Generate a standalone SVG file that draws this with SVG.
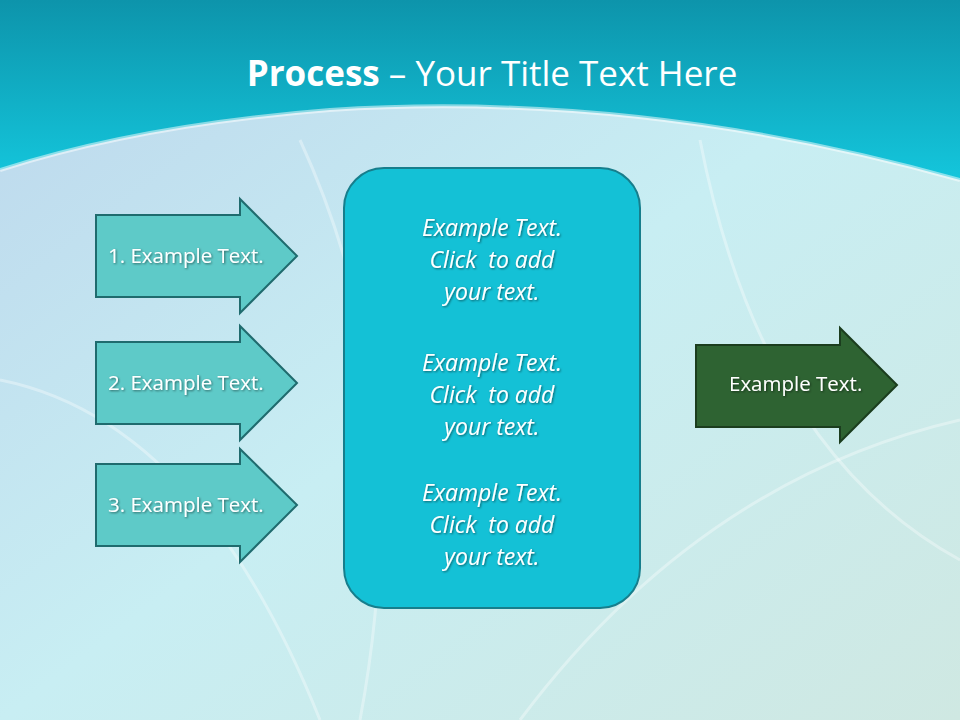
<svg xmlns="http://www.w3.org/2000/svg" width="960" height="720" viewBox="0 0 960 720">
<defs>
<linearGradient id="bg" x1="0" y1="0" x2="1" y2="1">
<stop offset="0" stop-color="#bcd6ec"/><stop offset="0.5" stop-color="#c8eef3"/><stop offset="1" stop-color="#cfe8e2"/>
</linearGradient>
<linearGradient id="top" x1="0" y1="0" x2="0" y2="1">
<stop offset="0" stop-color="#0d94ab"/><stop offset="1" stop-color="#14c6dc"/>
</linearGradient>
<filter id="sh"><feDropShadow dx="1" dy="1" stdDeviation="1" flood-opacity="0.5"/></filter>
</defs>
<style>
.ar{fill:#5ecac8;stroke:#1f6b6e;stroke-width:2}
.t{font-family:"Open Sans","Liberation Sans",sans-serif;font-size:20.5px;fill:#fff;filter:url(#sh)}
.c{font-family:"Open Sans","Liberation Sans",sans-serif;font-size:23px;font-style:italic;fill:#fff;text-anchor:middle;filter:url(#sh);white-space:pre}
</style>
<rect width="960" height="720" fill="url(#bg)"/>
<g fill="none" stroke="#ffffff" stroke-opacity="0.35" stroke-width="3">
<path d="M300 140 Q420 400 360 720"/><path d="M700 140 Q760 450 960 560"/><path d="M0 380 Q200 420 320 720"/><path d="M520 720 Q700 480 960 420"/>
</g>
<path d="M0 0 H960 V180 Q640 90 330 110 Q140 125 0 170 Z" fill="url(#top)"/>
<path d="M0 170 Q140 125 330 110 Q640 90 960 180" fill="none" stroke="#ffffff" stroke-opacity="0.5" stroke-width="4"/>
<text x="492" y="86" text-anchor="middle" font-family="'Open Sans','Liberation Sans',sans-serif" font-size="35" fill="#fff"><tspan font-weight="bold">Process</tspan> – Your Title Text Here</text>
<g id="a1"><path class="ar" d="M96 215 H240 V199 L297 256 L240 313 V297 H96 Z"/><text class="t" x="108" y="263">1. Example Text.</text></g>
<g id="a2"><path class="ar" d="M96 342 H240 V326 L297 383 L240 440 V424 H96 Z"/><text class="t" x="108" y="390">2. Example Text.</text></g>
<g id="a3"><path class="ar" d="M96 464 H240 V449 L297 505 L240 562 V546 H96 Z"/><text class="t" x="108" y="512">3. Example Text.</text></g>
<g id="center"><rect x="344" y="168" width="296" height="440" rx="40" fill="#14c1d6" stroke="#177e8c" stroke-width="2"/>
<text class="c" xml:space="preserve"><tspan x="492" y="236">Example Text.</tspan><tspan x="492" y="268">Click  to add</tspan><tspan x="492" y="300">your text.</tspan><tspan x="492" y="371">Example Text.</tspan><tspan x="492" y="403">Click  to add</tspan><tspan x="492" y="435">your text.</tspan><tspan x="492" y="501">Example Text.</tspan><tspan x="492" y="533">Click  to add</tspan><tspan x="492" y="565">your text.</tspan></text></g>
<g id="out"><path d="M696 345 H840 V328 L897 385 L840 442 V427 H696 Z" fill="#2e6332" stroke="#1b3d1e" stroke-width="2"/><text class="t" x="729" y="391" font-size="19">Example Text.</text></g>
<g id="connectors"/>
</svg>
